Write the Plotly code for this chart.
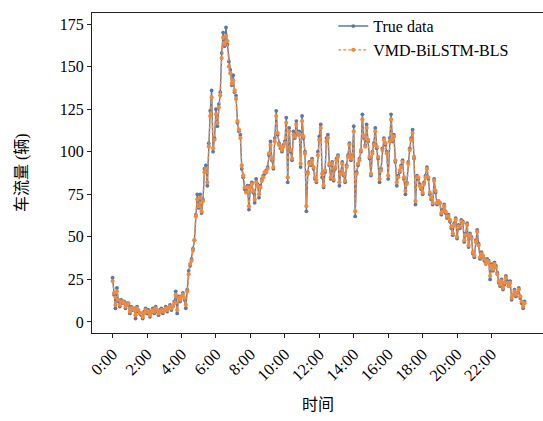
import plotly.graph_objects as go

# 5-minute samples over one day (288 points)
true_data = [
    26, 16, 8, 20, 12, 9, 13, 11, 12, 8, 11, 10,
    5, 9, 7, 8, 2, 9, 6, 5, 4, 2, 6, 8,
    5, 7, 3, 6, 8, 5, 9, 6, 4, 7, 8, 5,
    7, 9, 6, 8, 10, 7, 9, 12, 18, 5, 15, 12,
    15, 17, 13, 8, 19, 30, 33, 37, 43, 48, 63, 75,
    67, 75, 64, 72, 90, 92, 80, 105, 124, 136, 100, 108,
    125, 115, 128, 135, 158, 170, 162, 173, 163, 153, 148, 139,
    145, 135, 133, 117, 112, 110, 90, 85, 78, 77, 80, 66,
    80, 82, 76, 70, 84, 81, 73, 80, 84, 86, 87, 89,
    91, 98, 106, 95, 90, 108, 124, 110, 105, 102, 100, 104,
    106, 120, 82, 114, 100, 95, 112, 108, 118, 110, 112, 91,
    121, 108, 100, 65, 88, 94, 92, 96, 90, 84, 82, 100,
    109, 116, 85, 79, 88, 108, 110, 92, 84, 94, 83, 90,
    96, 98, 80, 88, 94, 86, 82, 92, 98, 105, 95, 98,
    115, 62, 88, 92, 96, 100, 122, 108, 104, 116, 106, 96,
    86, 100, 105, 114, 102, 96, 82, 90, 102, 108, 104, 100,
    84, 108, 122, 106, 110, 94, 80, 86, 88, 92, 95, 84,
    75, 82, 94, 102, 108, 113, 96, 69, 86, 84, 81, 78,
    75, 82, 86, 91, 84, 75, 72, 69, 84, 76, 69, 71,
    70, 63, 66, 69, 64, 61, 63, 59, 55, 51, 58, 61,
    49, 57, 55, 60, 59, 47, 52, 58, 44, 52, 50, 40,
    38, 48, 54, 46, 37, 41, 38, 36, 35, 37, 36, 25,
    34, 30, 35, 33, 29, 23, 21, 25, 19, 22, 27, 24,
    21, 24, 13, 16, 19, 15, 17, 20, 14, 11, 8, 12,
]

pred_data = [
    24, 17, 10, 18, 13, 10, 12, 12, 11, 9, 10, 11,
    6, 8, 8, 7, 4, 8, 7, 5, 5, 3, 5, 7,
    6, 6, 4, 6, 7, 6, 8, 7, 5, 6, 7, 6,
    7, 8, 7, 8, 9, 8, 9, 11, 16, 7, 14, 13,
    15, 16, 14, 10, 18, 28, 34, 36, 42, 48, 62, 72,
    68, 73, 65, 71, 88, 90, 82, 103, 121, 132, 102, 107,
    122, 117, 126, 133, 155, 167, 163, 168, 165, 150, 146, 140,
    142, 136, 131, 118, 113, 108, 92, 86, 79, 76, 79, 68,
    79, 81, 77, 72, 82, 80, 75, 79, 83, 85, 88, 88,
    90, 99, 104, 96, 91, 106, 121, 111, 104, 103, 101, 103,
    105, 117, 85, 112, 101, 96, 110, 109, 116, 111, 110, 93,
    118, 109, 99, 68, 87, 93, 93, 95, 91, 85, 83, 98,
    107, 114, 87, 80, 89, 106, 108, 93, 85, 93, 84, 91,
    95, 97, 82, 87, 93, 87, 83, 91, 97, 104, 96, 97,
    112, 65, 87, 93, 95, 101, 119, 109, 103, 114, 107, 97,
    87, 99, 104, 112, 103, 97, 84, 89, 101, 107, 105, 99,
    86, 106, 119, 107, 109, 95, 82, 85, 89, 91, 94, 85,
    77, 81, 93, 101, 107, 111, 97, 71, 85, 85, 80, 79,
    76, 81, 85, 90, 85, 76, 73, 70, 83, 77, 70, 71,
    70, 64, 65, 68, 65, 62, 62, 60, 56, 52, 57, 60,
    50, 56, 56, 59, 58, 48, 51, 57, 45, 51, 49, 41,
    39, 47, 53, 45, 38, 40, 39, 37, 34, 36, 35, 27,
    33, 31, 34, 32, 28, 24, 22, 24, 20, 23, 26, 23,
    21, 23, 14, 16, 18, 16, 17, 19, 15, 12, 9, 11,
]

tick_labels = ["0:00", "2:00", "4:00", "6:00", "8:00", "10:00",
               "12:00", "14:00", "16:00", "18:00", "20:00", "22:00"]
samples_per_tick = 24
y_ticks = [0, 25, 50, 75, 100, 125, 150, 175]

x = list(range(len(true_data)))
tick_vals = [i * samples_per_tick for i in range(len(tick_labels))]

FONT = "Liberation Serif, Noto Sans CJK SC"
BLUE = "#5a78a6"
ORANGE = "#ef8a3e"

fig = go.Figure()
fig.add_trace(go.Scatter(
    x=x, y=true_data, name="True data", mode="lines+markers",
    line=dict(color=BLUE, width=1.4),
    marker=dict(color=BLUE, size=3.8),
))
fig.add_trace(go.Scatter(
    x=x, y=pred_data, name="VMD-BiLSTM-BLS", mode="lines+markers",
    line=dict(color=ORANGE, width=1.4, dash="3px,2px"),
    marker=dict(color=ORANGE, size=4.2),
))

fig.update_layout(
    width=543, height=421,
    margin=dict(l=92, r=0, t=13, b=88),
    paper_bgcolor="white", plot_bgcolor="white",
    font=dict(family=FONT, size=16, color="black"),
    showlegend=True,
    legend=dict(x=0.535, y=1.012, xanchor="left", yanchor="top",
                bgcolor="rgba(0,0,0,0)", font=dict(size=16, family=FONT),
                itemwidth=30, tracegroupgap=0),
    xaxis=dict(
        range=[-14.35, 299.85], tickvals=tick_vals, ticktext=tick_labels,
        tickangle=-45, ticks="outside", ticklen=4, tickwidth=1.2, tickcolor="#222",
        showline=True, linecolor="#222", linewidth=1.3, mirror=True,
        showgrid=False, zeroline=False,
        tickfont=dict(family=FONT, size=16.5),
    ),
    yaxis=dict(
        range=[-6.5, 181.5], tickvals=y_ticks,
        ticks="outside", ticklen=4, tickwidth=1.2, tickcolor="#222",
        showline=True, linecolor="#222", linewidth=1.3, mirror=False,
        showgrid=False, zeroline=False,
        tickfont=dict(family=FONT, size=16),
    ),
    annotations=[
        dict(text="时间", xref="paper", yref="paper", x=0.5, y=-0.222,
             xanchor="center", yanchor="middle", showarrow=False,
             font=dict(family=FONT, size=16)),
        dict(text="车流量 (辆)", xref="paper", yref="paper", x=-0.155, y=0.5,
             xanchor="center", yanchor="middle", showarrow=False, textangle=-90,
             font=dict(family=FONT, size=16)),
    ],
)

fig.write_html("out.html")
